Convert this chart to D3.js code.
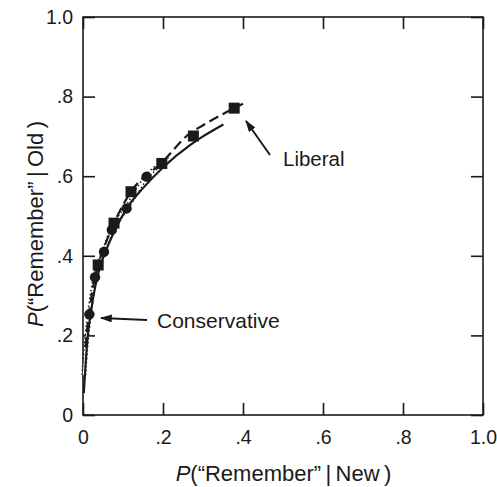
<!DOCTYPE html>
<html>
<head>
<meta charset="utf-8">
<script src="https://cdn.jsdelivr.net/npm/d3@7"></script>
<style>
body{margin:0;background:#fff;}
text{font-family:"Liberation Sans",Arial,sans-serif;fill:#1a1a1a;}
</style>
</head>
<body>
<div id="chart"></div>
<script>
// observed points
var liberalX = [0.038, 0.0775, 0.12, 0.197, 0.276, 0.378];
var liberalY = [0.377, 0.482, 0.561, 0.632, 0.701, 0.771];
var conservX = [0.016, 0.03, 0.0525, 0.072, 0.109, 0.159];
var conservY = [0.253, 0.346, 0.41, 0.465, 0.519, 0.599];

// fitted curves
var solidX = [0.002, 0.006, 0.012, 0.02, 0.03, 0.045, 0.06, 0.08, 0.11, 0.15, 0.2, 0.2675, 0.3, 0.351];
var solidY = [0.055, 0.12, 0.2, 0.26, 0.32, 0.38, 0.42, 0.465, 0.52, 0.57, 0.622, 0.678, 0.7, 0.73];
var dashX = [0.006, 0.012, 0.02, 0.038, 0.06, 0.0775, 0.12, 0.197, 0.2675, 0.3, 0.378, 0.40];
var dashY = [0.17, 0.23, 0.29, 0.377, 0.44, 0.482, 0.561, 0.634, 0.708, 0.728, 0.771, 0.782];
var dotX = [0.002, 0.008, 0.016, 0.03, 0.0525, 0.072, 0.109, 0.159, 0.22];
var dotY = [0.10, 0.18, 0.253, 0.345, 0.41, 0.465, 0.52, 0.598, 0.645];

var ticks = [0, 0.2, 0.4, 0.6, 0.8, 1.0];
var tickLabels = ["0", ".2", ".4", ".6", ".8", "1.0"];

var width = 497, height = 487;
var mLeft = 83, mRight = 483, mTop = 17, mBottom = 415;

var x = d3.scaleLinear().domain([0, 1]).range([mLeft, mRight]);
var y = d3.scaleLinear().domain([0, 1]).range([mBottom, mTop]);

var svg = d3.select("#chart").append("svg")
    .attr("width", width)
    .attr("height", height);

svg.append("defs").append("marker")
    .attr("id", "arrow")
    .attr("viewBox", "0 0 10 10")
    .attr("refX", 9).attr("refY", 5)
    .attr("markerWidth", 12).attr("markerHeight", 8)
    .attr("markerUnits", "userSpaceOnUse")
    .attr("orient", "auto")
    .attr("preserveAspectRatio", "none")
    .append("path")
    .attr("d", "M0,0L10,5L0,10z")
    .attr("fill", "#1a1a1a");

var fmt = function(d) { return tickLabels[ticks.indexOf(d)]; };

// axes with inward ticks on all sides
svg.append("g").attr("transform", "translate(0," + mBottom + ")")
    .call(d3.axisBottom(x).tickValues(ticks).tickFormat(fmt).tickSize(-12).tickPadding(15))
    .call(function(g) { g.select(".domain").remove(); });
svg.append("g").attr("transform", "translate(0," + mTop + ")")
    .call(d3.axisTop(x).tickValues(ticks).tickFormat("").tickSize(-12))
    .call(function(g) { g.select(".domain").remove(); });
svg.append("g").attr("transform", "translate(" + mLeft + ",0)")
    .call(d3.axisLeft(y).tickValues(ticks).tickFormat(fmt).tickSize(-12).tickPadding(10))
    .call(function(g) { g.select(".domain").remove(); });
svg.append("g").attr("transform", "translate(" + mRight + ",0)")
    .call(d3.axisRight(y).tickValues(ticks).tickFormat("").tickSize(-12))
    .call(function(g) { g.select(".domain").remove(); });

svg.selectAll(".tick line").attr("stroke", "#1a1a1a").attr("stroke-width", 1.6);
svg.selectAll(".tick text").style("font-size", "19.5px").attr("fill", "#1a1a1a");

svg.append("rect")
    .attr("x", mLeft).attr("y", mTop)
    .attr("width", mRight - mLeft).attr("height", mBottom - mTop)
    .attr("fill", "none").attr("stroke", "#1a1a1a").attr("stroke-width", 1.6);

var line = d3.line().curve(d3.curveMonotoneX)
    .x(function(d) { return x(d[0]); })
    .y(function(d) { return y(d[1]); });

// dotted (conservative fit): dotted black under a white core
var dotPts = d3.zip(dotX, dotY);
svg.append("path").datum(dotPts)
    .attr("d", line).attr("fill", "none")
    .attr("stroke", "#1a1a1a").attr("stroke-width", 5)
    .attr("stroke-dasharray", "1.5,2.5");
svg.append("path").datum(dotPts)
    .attr("d", line).attr("fill", "none")
    .attr("stroke", "#fff").attr("stroke-width", 2);

svg.append("path").datum(d3.zip(solidX, solidY))
    .attr("d", line).attr("fill", "none")
    .attr("stroke", "#1a1a1a").attr("stroke-width", 2.2);

svg.append("path").datum(d3.zip(dashX, dashY))
    .attr("d", line).attr("fill", "none")
    .attr("stroke", "#1a1a1a").attr("stroke-width", 2.2)
    .attr("stroke-dasharray", "10,5");

svg.selectAll(".cons").data(d3.zip(conservX, conservY)).enter()
    .append("circle").attr("class", "cons")
    .attr("cx", function(d) { return x(d[0]); })
    .attr("cy", function(d) { return y(d[1]); })
    .attr("r", 5.2).attr("fill", "#1a1a1a");

svg.selectAll(".lib").data(d3.zip(liberalX, liberalY)).enter()
    .append("rect").attr("class", "lib")
    .attr("x", function(d) { return x(d[0]) - 5.5; })
    .attr("y", function(d) { return y(d[1]) - 5.5; })
    .attr("width", 11).attr("height", 11).attr("fill", "#1a1a1a");

// annotations
svg.append("line")
    .attr("x1", 270).attr("y1", 155).attr("x2", 246).attr("y2", 121)
    .attr("stroke", "#1a1a1a").attr("stroke-width", 2)
    .attr("marker-end", "url(#arrow)");
svg.append("text").attr("x", 283).attr("y", 166)
    .style("font-size", "20.5px").text("Liberal");

svg.append("line")
    .attr("x1", 147).attr("y1", 320).attr("x2", 101).attr("y2", 318)
    .attr("stroke", "#1a1a1a").attr("stroke-width", 2)
    .attr("marker-end", "url(#arrow)");
svg.append("text").attr("x", 157).attr("y", 328)
    .style("font-size", "21px").text("Conservative");

// axis titles
var xt = svg.append("text").attr("x", 283.5).attr("y", 481)
    .attr("text-anchor", "middle").style("font-size", "22px");
xt.append("tspan").style("font-style", "italic").text("P");
xt.append("tspan").text("(“Remember”\u2009|\u2009New\u2009)");

var yt = svg.append("text")
    .attr("transform", "translate(43,224) rotate(-90)")
    .attr("text-anchor", "middle").style("font-size", "22px");
yt.append("tspan").style("font-style", "italic").text("P");
yt.append("tspan").text("(“Remember”\u2009|\u2009Old\u2009)");
</script>
</body>
</html>
